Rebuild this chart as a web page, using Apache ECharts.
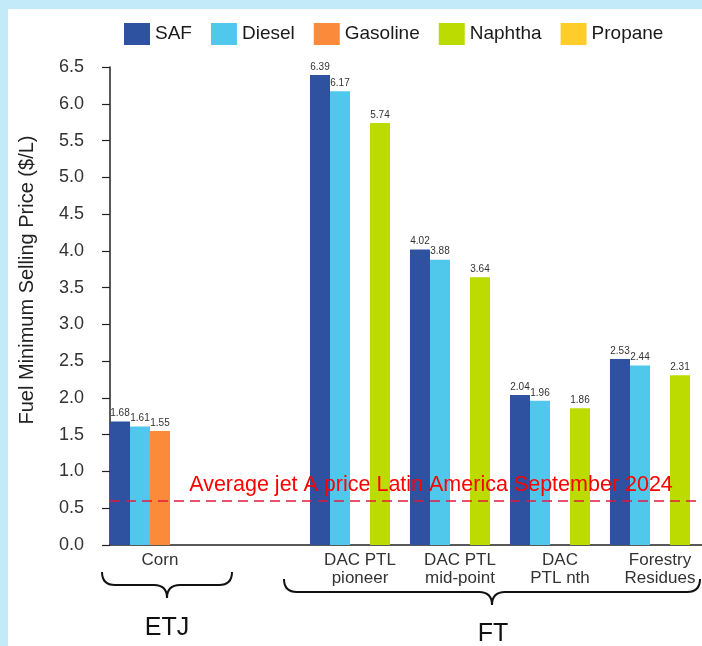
<!DOCTYPE html>
<html>
<head>
<meta charset="utf-8">
<script src="https://cdn.jsdelivr.net/npm/echarts@6/dist/echarts.min.js"></script>
<style>
  html, body { margin: 0; padding: 0; overflow: hidden; width: 702px; height: 646px; }
  #chart { width: 712px; height: 646px; }
</style>
</head>
<body>
<div id="chart"></div>
<script>
const categories = ['Corn', '', 'DAC PTL\npioneer', 'DAC PTL\nmid-point', 'DAC\nPTL nth', 'Forestry\nResidues'];
const seriesNames = ['SAF', 'Diesel', 'Gasoline', 'Naphtha', 'Propane'];
const safValues = [1.68, null, 6.39, 4.02, 2.04, 2.53];
const dieselValues = [1.61, null, 6.17, 3.88, 1.96, 2.44];
const gasolineValues = [1.55, null, null, null, null, null];
const naphthaValues = [null, null, 5.74, 3.64, 1.86, 2.31];
const propaneValues = [null, null, null, null, null, null];
const jetAPrice = 0.6;
const jetALabel = 'Average jet A price Latin America September 2024';
const yAxisTitle = 'Fuel Minimum Selling Price ($/L)';
const groupLabels = ['ETJ', 'FT'];

const colors = ['#2f52a0', '#50c8ec', '#fb8b3b', '#bcdb00', '#ffcd2a'];
const font = 'Liberation Sans, Arial, sans-serif';
const valuesList = [safValues, dieselValues, gasolineValues, naphthaValues, propaneValues];

const series = seriesNames.map((name, i) => {
  const s = {
    name: name,
    type: 'bar',
    data: valuesList[i],
    barGap: '0%',
    barCategoryGap: '0%',
    itemStyle: { color: colors[i] },
    label: {
      show: true,
      position: 'top',
      distance: 3,
      fontSize: 10,
      color: '#333',
      fontFamily: font,
      formatter: p => (p.value == null ? '' : p.value.toFixed(2))
    }
  };
  if (i === 0) {
    s.markLine = {
      silent: true,
      symbol: 'none',
      data: [{ yAxis: jetAPrice }],
      lineStyle: { color: '#e3183d', type: [10, 6], width: 1.5 },
      label: {
        show: true,
        position: 'insideMiddleTop',
        formatter: jetALabel,
        color: '#ff0000',
        fontSize: 21.5,
        fontFamily: font,
        offset: [21, 0]
      }
    };
  }
  return s;
});

// brace decoration built from curve + line primitives
function brace(x0, x1, yTop, yMid, r) {
  const cx = (x0 + x1) / 2;
  const st = { stroke: '#111', lineWidth: 2, fill: 'none' };
  const yTip = yMid + (yMid - yTop);
  return [
    { type: 'bezierCurve', silent: true, shape: { x1: x0, y1: yTop, cpx1: x0, cpy1: yMid, x2: x0 + r, y2: yMid }, style: st },
    { type: 'line', silent: true, shape: { x1: x0 + r, y1: yMid, x2: cx - r, y2: yMid }, style: st },
    { type: 'bezierCurve', silent: true, shape: { x1: cx - r, y1: yMid, cpx1: cx, cpy1: yMid, x2: cx, y2: yTip }, style: st },
    { type: 'bezierCurve', silent: true, shape: { x1: cx, y1: yTip, cpx1: cx, cpy1: yMid, x2: cx + r, y2: yMid }, style: st },
    { type: 'line', silent: true, shape: { x1: cx + r, y1: yMid, x2: x1 - r, y2: yMid }, style: st },
    { type: 'bezierCurve', silent: true, shape: { x1: x1 - r, y1: yMid, cpx1: x1, cpy1: yMid, x2: x1, y2: yTop }, style: st }
  ];
}

const chart = echarts.init(document.getElementById('chart'));
chart.setOption({
  backgroundColor: '#c2eaf9',
  animation: false,
  color: colors,
  legend: {
    data: seriesNames,
    left: 119,
    top: 18,
    icon: 'rect',
    itemWidth: 26,
    itemHeight: 22,
    itemGap: 19,
    textStyle: { fontSize: 19, color: '#1a1a1a', fontFamily: font }
  },
  grid: { left: 110, top: 67, width: 600, height: 478, containLabel: false },
  xAxis: {
    type: 'category',
    data: categories,
    axisLine: { lineStyle: { color: '#222', width: 1.5 } },
    axisTick: { show: false },
    axisLabel: {
      fontSize: 17,
      lineHeight: 18,
      color: '#333',
      fontFamily: font,
      margin: 6,
      interval: 0
    }
  },
  yAxis: {
    type: 'value',
    min: 0,
    max: 6.5,
    interval: 0.5,
    splitLine: { show: false },
    axisLine: { show: true, lineStyle: { color: '#222', width: 1.5 } },
    axisTick: { show: true, length: 8, lineStyle: { color: '#222', width: 1.2 } },
    axisLabel: {
      fontSize: 18,
      color: '#333',
      fontFamily: font,
      margin: 26,
      formatter: v => v.toFixed(1)
    }
  },
  graphic: [
    { type: 'rect', z: -10, silent: true, shape: { x: 8, y: 9, width: 710, height: 640 }, style: { fill: '#ffffff' } },
    { type: 'text', silent: true, x: 27, y: 280, rotation: Math.PI / 2,
      style: { text: yAxisTitle, fontSize: 20, fill: '#222', fontFamily: font, align: 'center', verticalAlign: 'middle' } },
    ...brace(102, 232, 572, 585, 13),
    ...brace(284, 700, 579, 592, 13),
    { type: 'text', silent: true, x: 167, y: 628,
      style: { text: groupLabels[0], fontSize: 25, fill: '#111', fontFamily: font, align: 'center', verticalAlign: 'middle' } },
    { type: 'text', silent: true, x: 493, y: 634,
      style: { text: groupLabels[1], fontSize: 25, fill: '#111', fontFamily: font, align: 'center', verticalAlign: 'middle' } }
  ],
  series: series
});
</script>
</body>
</html>
